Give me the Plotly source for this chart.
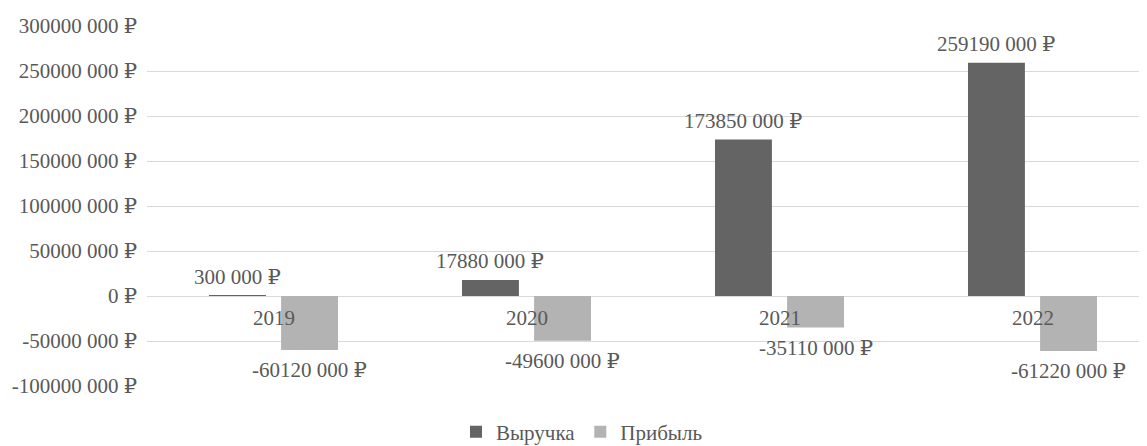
import plotly.graph_objects as go

years = ["2019", "2020", "2021", "2022"]
revenue = [300000, 17880000, 173850000, 259190000]
profit = [-60120000, -49600000, -35110000, -61220000]
tick_values = [-100000000, -50000000, 0, 50000000, 100000000, 150000000, 200000000, 250000000, 300000000]


def rub(v):
    if v == 0:
        return "0 ₽"
    sign = "-" if v < 0 else ""
    a = abs(v)
    return f"{sign}{a // 1000} {a % 1000:03d} ₽"


FONT = "Liberation Serif, Times New Roman, DejaVu Serif, serif"
TXT = "#595959"
FS = 21
W = 0.225
OFF_R = -0.255
OFF_P = 0.03
xs = list(range(len(years)))

fig = go.Figure()
fig.add_trace(go.Bar(name="Выручка", x=xs, y=revenue, width=W, offset=OFF_R,
                     marker=dict(color="#646464", line=dict(width=0))))
fig.add_trace(go.Bar(name="Прибыль", x=xs, y=profit, width=W, offset=OFF_P,
                     marker=dict(color="#b3b3b3", line=dict(width=0))))

ann = []
for series, off in ((revenue, OFF_R), (profit, OFF_P)):
    for i, v in enumerate(series):
        ann.append(dict(x=i + off + W / 2, y=v, xref="x", yref="y", text=rub(v),
                        showarrow=False, yanchor="middle", xanchor="center",
                        yshift=19 if v >= 0 else -20,
                        font=dict(family=FONT, size=FS, color=TXT)))
for i, yr in enumerate(years):
    ann.append(dict(x=i, y=0, xref="x", yref="y", text=yr, showarrow=False,
                    yanchor="middle", xanchor="center", yshift=-22,
                    font=dict(family=FONT, size=FS, color=TXT)))

fig.update_layout(
    width=1139, height=438,
    margin=dict(l=139, r=0, t=18, b=60, autoexpand=False),
    paper_bgcolor="white", plot_bgcolor="white",
    barmode="overlay",
    font=dict(family=FONT, size=FS, color=TXT),
    xaxis=dict(range=[-0.5, -0.5 + 1000 / 253], showticklabels=False, showgrid=False,
               zeroline=False, showline=False, fixedrange=True, automargin=False),
    yaxis=dict(range=[-100000000, 300000000], tickvals=tick_values,
               ticktext=[rub(v) for v in tick_values], automargin=False,
               showgrid=True, gridcolor="#d9d9d9", gridwidth=1,
               zeroline=True, zerolinecolor="#d9d9d9", zerolinewidth=1,
               showline=False, ticks="", ticklabelstandoff=9,
               tickfont=dict(family=FONT, size=FS, color=TXT)),
    legend=dict(orientation="h", x=0.435, xanchor="center", y=-0.128, yanchor="middle",
                font=dict(family=FONT, size=FS, color=TXT), itemwidth=30,
                tracegroupgap=0, bgcolor="rgba(0,0,0,0)"),
    annotations=ann,
    showlegend=True,
)

fig.write_html("out.html")
